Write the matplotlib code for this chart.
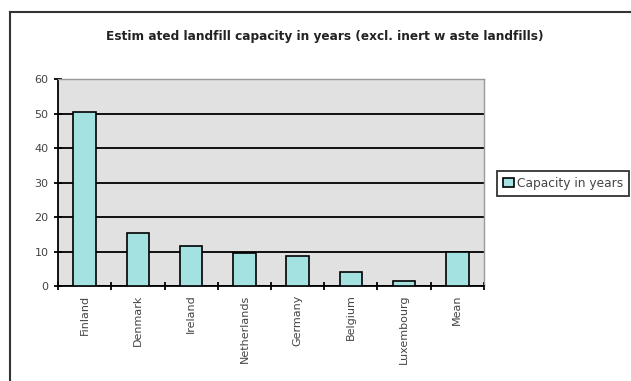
import matplotlib
matplotlib.use('Agg')
from matplotlib import pyplot as plt
from matplotlib.lines import Line2D
import numpy as np

plt.rcParams['font.family'] = ['DejaVu Sans']

countries = ['Finland', 'Denmark', 'Ireland', 'Netherlands', 'Germany',
             'Belgium', 'Luxembourg', 'Mean']
capacity = [50.5, 15.3, 11.7, 9.5, 8.7, 4.2, 1.5, 9.9]
yticks = [0, 10, 20, 30, 40, 50, 60]

fig = plt.figure(figsize=(6.31, 3.81), dpi=100)
ax = fig.add_axes([0.092, 0.249, 0.675, 0.543])

x = np.arange(len(countries))
ax.bar(x, capacity, width=0.42, color='#a3e2e0', edgecolor='black',
       linewidth=1.2, zorder=3, label='Capacity in years')

ax.set_facecolor('#e1e1e1')
ax.set_xlim(-0.5, len(countries) - 0.5)
ax.set_ylim(0, 60)
ax.set_yticks(yticks)
ax.yaxis.grid(True, color='black', linewidth=1.3, zorder=1)
ax.set_axisbelow(True)

# category labels at centres, tick marks between categories
ax.set_xticks(x)
ax.set_xticklabels(countries, rotation=90, fontsize=8, color='#444444')
ax.tick_params(axis='x', length=0, pad=6)
ax.set_xticks(np.arange(-0.5, len(countries)), minor=True)
ax.tick_params(axis='x', which='minor', length=6, width=1.3,
               direction='inout', color='black')
ax.tick_params(axis='y', length=6, width=1.3, direction='inout',
               labelsize=8, labelcolor='#444444', pad=4)

for s in ['top', 'right']:
    ax.spines[s].set_color('#999999')
    ax.spines[s].set_linewidth(1)
for s in ['left', 'bottom']:
    ax.spines[s].set_color('black')
    ax.spines[s].set_linewidth(1.3)

fig.text(0.514, 0.905, 'Estim ated landfill capacity in years (excl. inert w aste landfills)',
         ha='center', va='center', fontsize=8.7, fontweight='bold', color='#222222')

leg = fig.legend(loc='center left', bbox_to_anchor=(0.788, 0.519),
                 fontsize=8.8, frameon=True, fancybox=False, borderpad=0.5,
                 handlelength=0.9, handleheight=0.8, handletextpad=0.2,
                 borderaxespad=0)
leg.get_frame().set_edgecolor('black')
leg.get_frame().set_linewidth(1.3)
for t in leg.get_texts():
    t.set_color('#444444')

# outer chart frame (left and top edges visible)
fig.add_artist(Line2D([0.016, 0.016], [0, 0.969], color='#333333', linewidth=1.5,
                      transform=fig.transFigure))
fig.add_artist(Line2D([0.016, 1.0], [0.969, 0.969], color='#333333', linewidth=1.5,
                      transform=fig.transFigure))

fig.savefig('out.png', dpi=100)
